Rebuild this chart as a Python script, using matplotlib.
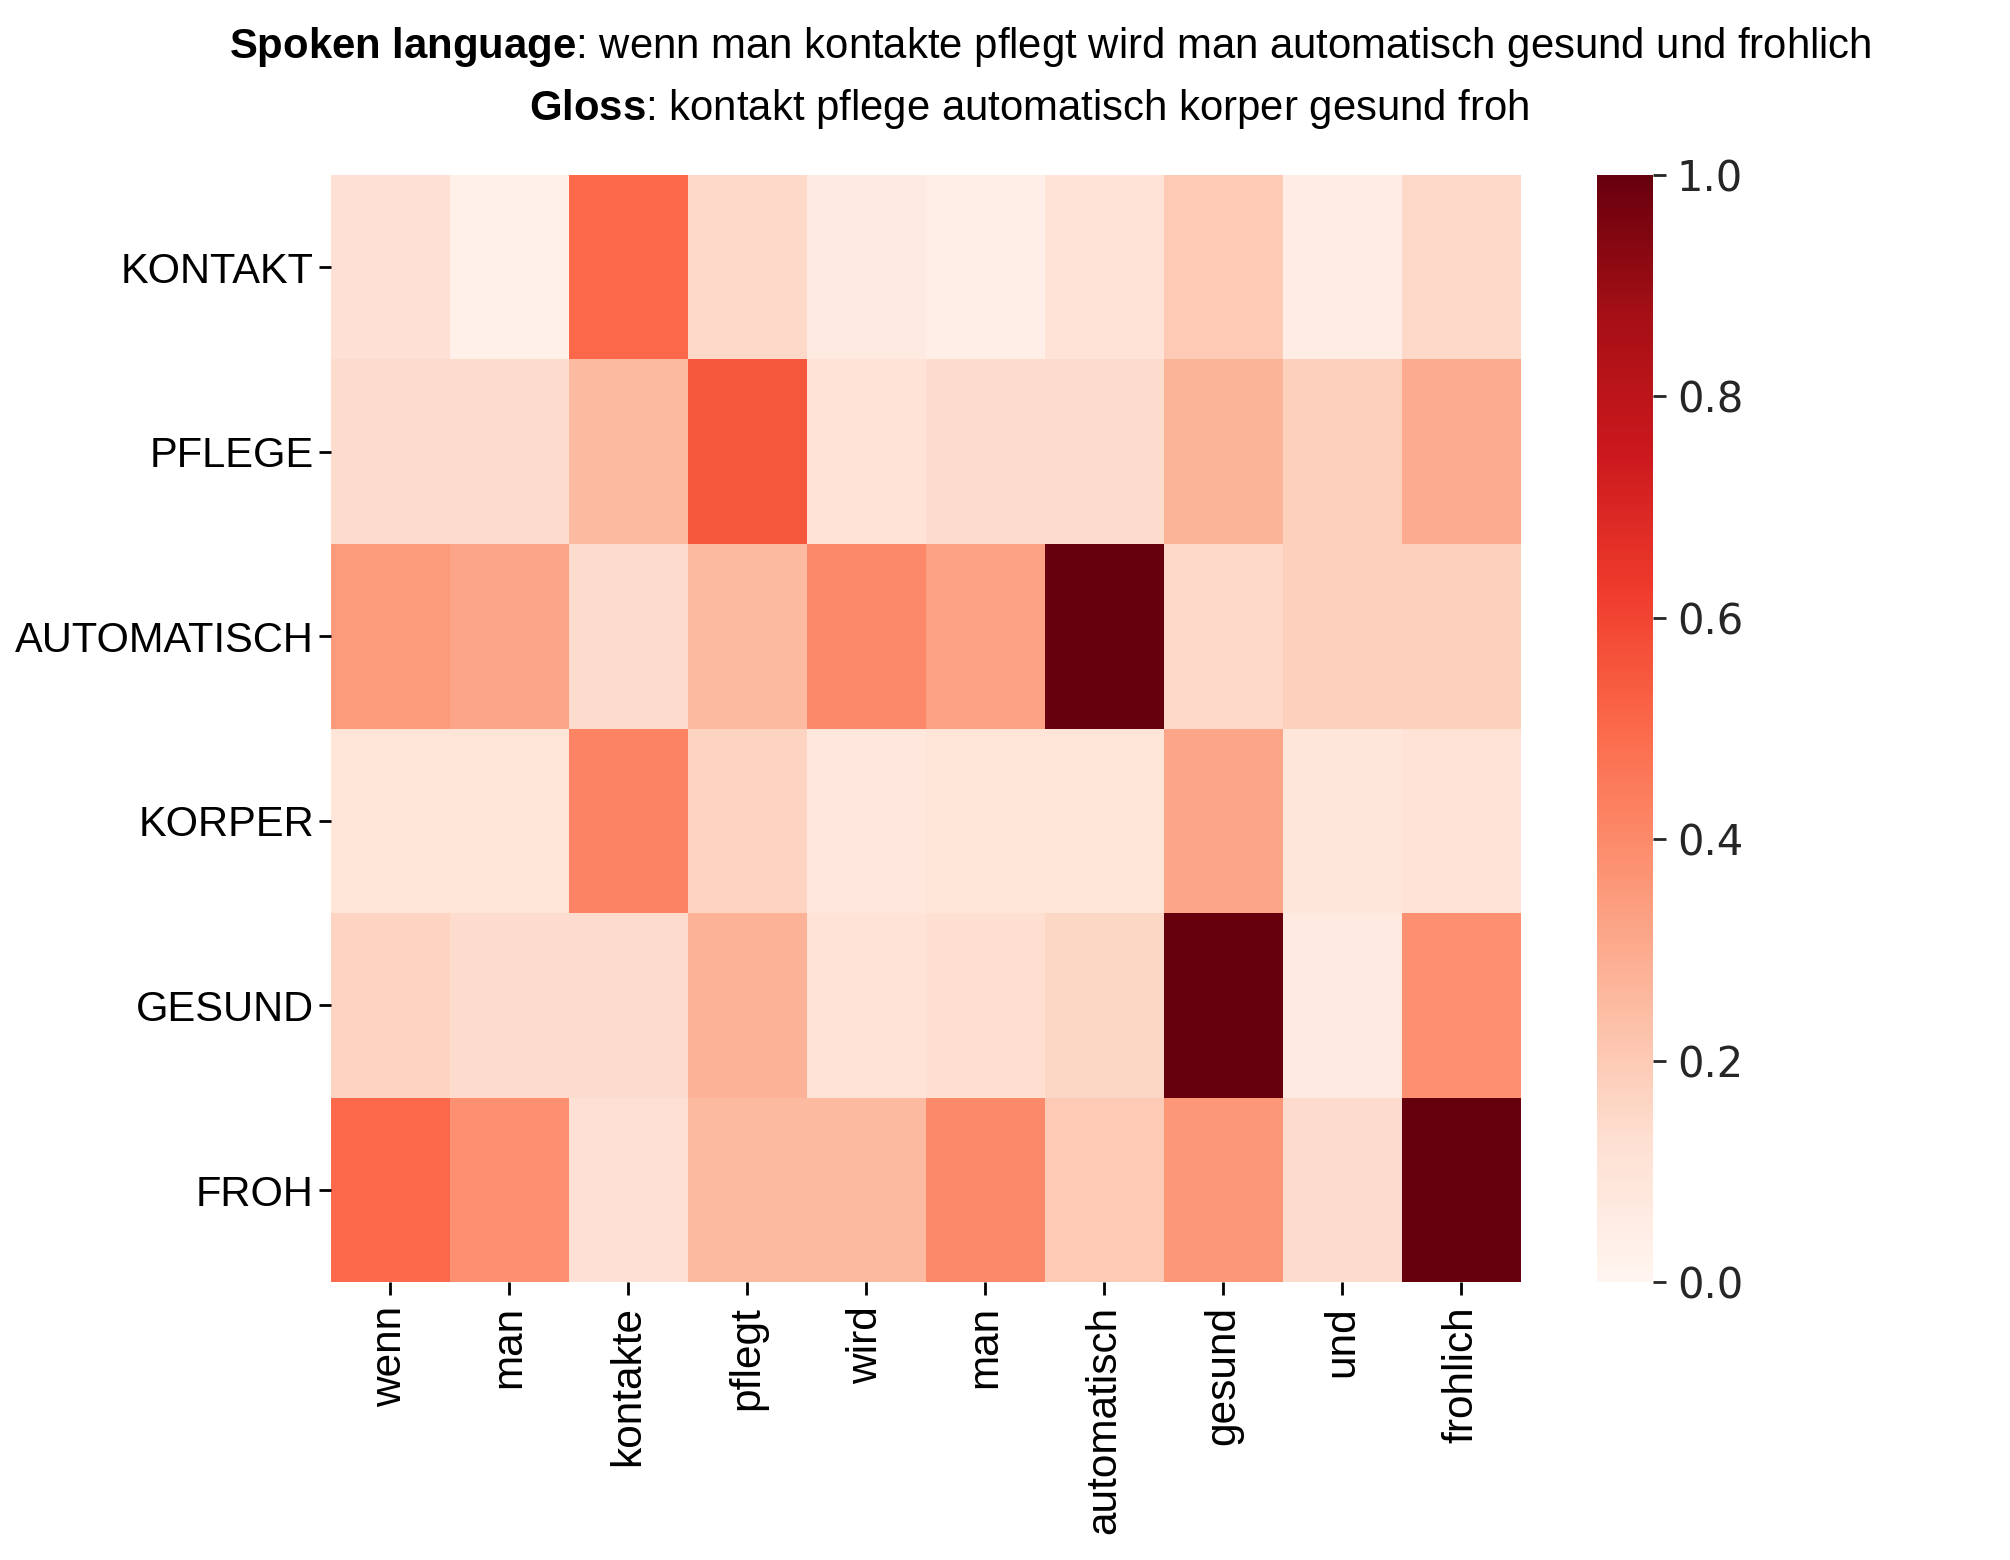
import numpy as np
import matplotlib
matplotlib.use("Agg")
import matplotlib.pyplot as plt

plt.rcParams["mathtext.fontset"] = "custom"
plt.rcParams["mathtext.rm"] = "Liberation Sans"
plt.rcParams["mathtext.bf"] = "Liberation Sans:bold"
plt.rcParams["mathtext.it"] = "Liberation Sans:italic"

spoken = ["wenn", "man", "kontakte", "pflegt", "wird", "man", "automatisch", "gesund", "und", "frohlich"]
gloss = ["KONTAKT", "PFLEGE", "AUTOMATISCH", "KORPER", "GESUND", "FROH"]

row_kontakt =     [0.12, 0.03, 0.50, 0.15, 0.07, 0.04, 0.11, 0.20, 0.05, 0.15]
row_pflege =      [0.14, 0.14, 0.25, 0.55, 0.11, 0.14, 0.14, 0.27, 0.18, 0.30]
row_automatisch = [0.35, 0.32, 0.14, 0.25, 0.40, 0.33, 1.00, 0.15, 0.18, 0.18]
row_korper =      [0.10, 0.10, 0.42, 0.17, 0.08, 0.10, 0.10, 0.32, 0.09, 0.11]
row_gesund =      [0.17, 0.14, 0.14, 0.28, 0.11, 0.13, 0.16, 1.00, 0.07, 0.38]
row_froh =        [0.50, 0.38, 0.12, 0.25, 0.25, 0.40, 0.20, 0.36, 0.14, 1.00]

data = np.array([row_kontakt, row_pflege, row_automatisch, row_korper, row_gesund, row_froh])

fig = plt.figure(figsize=(20.1, 15.6), dpi=100)
ax = fig.add_axes([0.1645, 0.178, 0.592, 0.710])
cax = fig.add_axes([0.7945, 0.178, 0.028, 0.710])

mesh = ax.pcolormesh(data, cmap="Reds", vmin=0, vmax=1)
ax.set_xlim(0, data.shape[1])
ax.set_ylim(data.shape[0], 0)
for s in ax.spines.values():
    s.set_visible(False)

lab_font = ["Liberation Sans", "DejaVu Sans"]
ax.set_xticks(np.arange(data.shape[1]) + 0.5)
ax.set_xticklabels(spoken, rotation=90, fontsize=30.5, family=lab_font)
ax.set_yticks(np.arange(data.shape[0]) + 0.5)
ax.set_yticklabels(gloss, fontsize=30, family=lab_font)
ax.tick_params(axis="both", length=9, width=2, pad=3)
ax.tick_params(axis="x", pad=8)

cb = fig.colorbar(mesh, cax=cax)
cb.outline.set_visible(False)
cb.set_ticks([0, 0.2, 0.4, 0.6, 0.8, 1.0])
cb.ax.tick_params(labelsize=30, length=9, width=2, colors="#262626", pad=8)
for t in cb.ax.get_yticklabels():
    t.set_family("DejaVu Sans")

fig.text(0.5225, 0.970,
         r"$\bf{Spoken\ language}$: wenn man kontakte pflegt wird man automatisch gesund und frohlich",
         ha="center", va="center", fontsize=30.2, family=lab_font)
fig.text(0.5122, 0.930,
         r"$\bf{Gloss}$: kontakt pflege automatisch korper gesund froh",
         ha="center", va="center", fontsize=30.2, family=lab_font)
fig.savefig("out.png", dpi=100)
